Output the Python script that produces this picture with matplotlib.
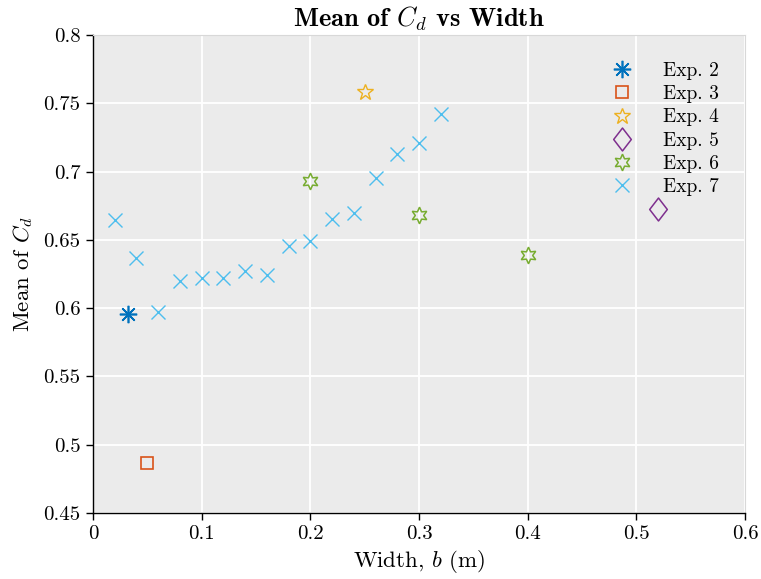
import matplotlib
matplotlib.use("Agg")
import matplotlib.pyplot as plt
from matplotlib.path import Path
from matplotlib.ticker import FuncFormatter

plt.rcParams["font.family"] = ["cmr10", "DejaVu Serif"]
plt.rcParams["mathtext.fontset"] = "cm"
plt.rcParams["axes.unicode_minus"] = False
plt.rcParams["axes.formatter.use_mathtext"] = True

# Experimental series: width b (m) and mean drag coefficient
exp2_b = [0.032]
exp2_cd = [0.596]
exp3_b = [0.05]
exp3_cd = [0.4866]
exp4_b = [0.25]
exp4_cd = [0.7583]
exp5_b = [0.52]
exp5_cd = [0.6726]
exp6_b = [0.2, 0.3, 0.4]
exp6_cd = [0.6931, 0.6682, 0.6389]
exp7_b = [0.02, 0.04, 0.06, 0.08, 0.10, 0.12, 0.14, 0.16, 0.18, 0.20,
          0.22, 0.24, 0.26, 0.28, 0.30, 0.32]
exp7_cd = [0.6645, 0.6367, 0.597, 0.6199, 0.622, 0.622, 0.6272, 0.6243,
           0.6455, 0.6492, 0.6653, 0.6697, 0.6953, 0.7129, 0.7209, 0.7422]

labels = ["Exp. 2", "Exp. 3", "Exp. 4", "Exp. 5", "Exp. 6", "Exp. 7"]
colors = ["#0072BD", "#D95319", "#EDB120", "#7E2F8E", "#77AC30", "#4DBEEE"]

# slightly wide diamond outline
diamond = Path([(0, 1), (0.77, 0), (0, -1), (-0.77, 0), (0, 1)],
               [Path.MOVETO, Path.LINETO, Path.LINETO, Path.LINETO, Path.CLOSEPOLY])

fig = plt.figure(figsize=(7.61, 5.79), dpi=100)
ax = fig.add_axes([0.1222, 0.114, 0.857, 0.8256])
ax.set_facecolor("#EBEBEB")

ax.plot(exp2_b, exp2_cd, linestyle="none", marker=(8, 2, 0), markersize=12.5,
        markeredgewidth=1.2, color=colors[0], label=labels[0])
ax.plot(exp3_b, exp3_cd, linestyle="none", marker="s", markersize=9,
        markeredgewidth=1.2, markerfacecolor="none", color=colors[1], label=labels[1])
ax.plot(exp4_b, exp4_cd, linestyle="none", marker="*", markersize=12,
        markeredgewidth=1.0, markerfacecolor="none", color=colors[2], label=labels[2])
ax.plot(exp5_b, exp5_cd, linestyle="none", marker=diamond, markersize=16.5,
        markeredgewidth=1.1, markerfacecolor="none", color=colors[3], label=labels[3])
ax.plot(exp6_b, exp6_cd, linestyle="none", marker=(6, 1, 0), markersize=12,
        markeredgewidth=1.1, markerfacecolor="none", color=colors[4], label=labels[4])
ax.plot(exp7_b, exp7_cd, linestyle="none", marker="x", markersize=9.5,
        markeredgewidth=1.0, color=colors[5], label=labels[5])

ax.set_xlim(0, 0.6)
ax.set_ylim(0.45, 0.8)
ax.set_xticks([0, 0.1, 0.2, 0.3, 0.4, 0.5, 0.6])
ax.set_yticks([0.45, 0.5, 0.55, 0.6, 0.65, 0.7, 0.75, 0.8])
fmt = FuncFormatter(lambda v, p: "%g" % round(v, 3))
ax.xaxis.set_major_formatter(fmt)
ax.yaxis.set_major_formatter(fmt)
ax.grid(True, color="white", linewidth=1.3)
ax.set_axisbelow(True)
ax.tick_params(direction="out", length=5, width=1, labelsize=15, colors="black", pad=4)
ax.tick_params(top=False, right=False)
for side in ["left", "bottom"]:
    ax.spines[side].set_color("black")
    ax.spines[side].set_linewidth(1.0)
for side in ["top", "right"]:
    ax.spines[side].set_color("#D8D8D8")
    ax.spines[side].set_linewidth(0.8)

ax.set_xlabel("Width, $b$ (m)", fontsize=16.5, labelpad=3)
ax.set_ylabel("Mean of $C_d$", fontsize=16.5, labelpad=6)
ax.set_title("Mean of $C_d$ vs Width", fontsize=19, family=["cmb10", "DejaVu Serif"], pad=6)

leg = ax.legend(loc="upper left", bbox_to_anchor=(606 / 761, 1 - 62 / 579),
                bbox_transform=fig.transFigure, frameon=False, fontsize=14,
                markerscale=1.0, handletextpad=1.35, labelspacing=0.27,
                borderaxespad=0.0, borderpad=0.0, handlelength=1.6)

fig.savefig("out.png", dpi=100)
